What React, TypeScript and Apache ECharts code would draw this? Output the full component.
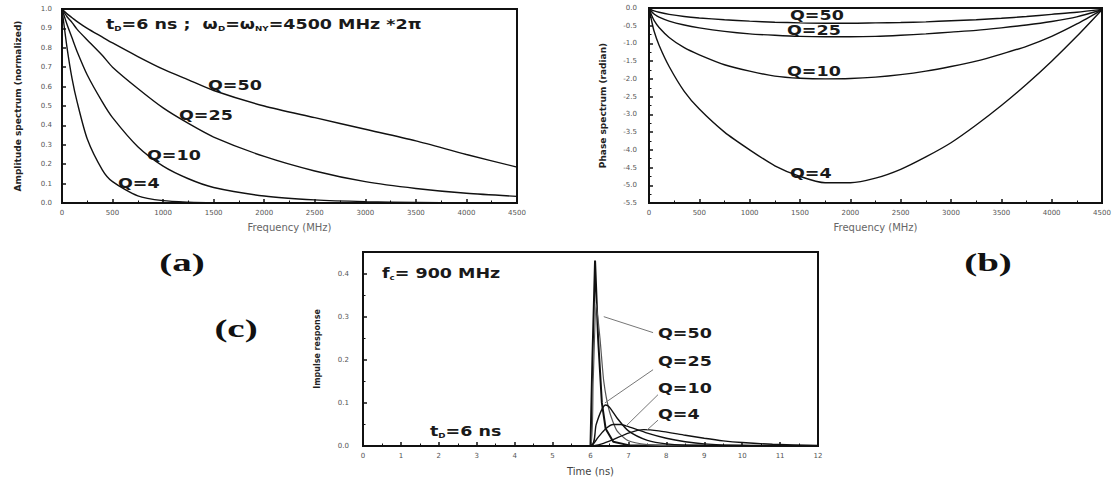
import React, { useEffect, useRef } from "react";
import * as echarts from "echarts";

// ---------- Panel (a): amplitude spectrum ----------
const ampFreq = [0, 50, 100, 150, 250, 400, 500, 750, 1000, 1250, 1500, 2000, 2500, 3000, 3500, 4000, 4500];
const ampQ50 = [1.0, 0.975, 0.955, 0.935, 0.9, 0.855, 0.825, 0.755, 0.69, 0.635, 0.58, 0.5, 0.44, 0.38, 0.32, 0.25, 0.185];
const ampQ25 = [1.0, 0.96, 0.93, 0.895, 0.84, 0.76, 0.7, 0.59, 0.49, 0.41, 0.34, 0.24, 0.165, 0.11, 0.075, 0.05, 0.034];
const ampQ10 = [1.0, 0.92, 0.85, 0.78, 0.66, 0.52, 0.44, 0.29, 0.19, 0.125, 0.08, 0.036, 0.016, 0.007, 0.003, 0.001, 0];
const ampQ4 = [1.0, 0.8, 0.64, 0.52, 0.33, 0.17, 0.11, 0.037, 0.012, 0.004, 0.001, 0, 0, 0, 0, 0, 0];

// ---------- Panel (b): phase spectrum ----------
const phFreq = [0, 25, 50, 100, 200, 350, 500, 750, 1000, 1250, 1500, 1750, 2000, 2250, 2500, 2750, 3000, 3250, 3500, 3750, 4000, 4250, 4500];
const phQ4 = [0, -0.35, -0.65, -1.05, -1.65, -2.35, -2.85, -3.5, -4.0, -4.45, -4.75, -4.93, -4.93, -4.8, -4.55, -4.2, -3.8, -3.3, -2.75, -2.15, -1.5, -0.8, -0.05];
const phQ10 = [0, -0.2, -0.35, -0.55, -0.83, -1.12, -1.32, -1.6, -1.78, -1.92, -1.98, -2.0, -1.99, -1.95, -1.88, -1.78, -1.65, -1.5, -1.3, -1.08, -0.8, -0.45, -0.05];
const phQ25 = [0, -0.1, -0.17, -0.26, -0.37, -0.48, -0.56, -0.66, -0.73, -0.77, -0.8, -0.81, -0.81, -0.8, -0.77, -0.73, -0.68, -0.63, -0.56, -0.48, -0.38, -0.25, -0.05];
const phQ50 = [0, -0.05, -0.08, -0.12, -0.18, -0.24, -0.28, -0.33, -0.37, -0.4, -0.42, -0.43, -0.43, -0.42, -0.41, -0.39, -0.36, -0.33, -0.29, -0.24, -0.18, -0.12, -0.04];

// ---------- Panel (c): impulse response ----------
const spikeT = [0, 6.0, 6.05, 6.12, 6.2, 6.3, 6.4, 6.6, 7.0, 12];
const spikeV = [0, 0, 0.2, 0.43, 0.25, 0.1, 0.04, 0.01, 0.002, 0];
const irQ50T = [0, 6.0, 6.07, 6.15, 6.25, 6.35, 6.5, 6.7, 7.0, 7.5, 8.0, 12];
const irQ50V = [0, 0, 0.15, 0.33, 0.25, 0.15, 0.08, 0.035, 0.012, 0.003, 0.001, 0];
const irQ25T = [0, 6.0, 6.15, 6.3, 6.4, 6.5, 6.7, 7.0, 7.5, 8.0, 9.0, 12];
const irQ25V = [0, 0, 0.05, 0.085, 0.095, 0.09, 0.065, 0.035, 0.013, 0.005, 0.001, 0];
const irQ10T = [0, 6.0, 6.2, 6.4, 6.6, 6.8, 7.0, 7.5, 8.0, 8.5, 9.0, 10.0, 12];
const irQ10V = [0, 0, 0.02, 0.04, 0.05, 0.05, 0.045, 0.03, 0.018, 0.01, 0.005, 0.001, 0];
const irQ4T = [0, 6.0, 6.3, 6.6, 7.0, 7.4, 7.8, 8.5, 9.0, 9.5, 10.0, 10.8, 12];
const irQ4V = [0, 0, 0.005, 0.015, 0.03, 0.038, 0.035, 0.025, 0.018, 0.012, 0.008, 0.004, 0.001];

// leader lines for panel (c) labels: [tStart, vStart, tEnd, vEnd]
const leaderQ50 = [7.65, 0.263, 6.35, 0.3];
const leaderQ25 = [7.65, 0.177, 6.38, 0.1];
const leaderQ10 = [7.78, 0.119, 6.91, 0.044];
const leaderQ4 = [7.78, 0.06, 7.49, 0.037];

const zip = (xs: number[], ys: number[]) => xs.map((x, i) => [x, ys[i]]);

const LINE = "#111";
const TICKCOL = "#555";
const SANS = "DejaVu Sans";

function axisCommon(extra: any) {
  return {
    axisLine: { show: true, onZero: false, lineStyle: { color: "#111", width: 2 } },
    axisTick: { show: true, inside: true, length: 4, lineStyle: { color: "#111", width: 1.5 } },
    minorTick: { show: false },
    splitLine: { show: false },
    axisLabel: { color: TICKCOL, fontSize: 7, fontFamily: SANS },
    nameTextStyle: { color: "#666", fontSize: 10, fontFamily: SANS },
    ...extra,
  };
}

export default function App() {
  const ref = useRef<HTMLDivElement>(null);
  useEffect(() => {
    document.body.style.margin = "0";
    const chart = echarts.init(ref.current!, undefined, { renderer: "svg" });

    const lineSeries = (name: string, xi: number, data: number[][], extra: any = {}) => ({
      name,
      type: "line",
      xAxisIndex: xi,
      yAxisIndex: xi,
      data,
      showSymbol: false,
      smooth: 0.25,
      lineStyle: { color: LINE, width: 1.4 },
      silent: true,
      ...extra,
    });
    const leader = (arr: number[]) => ({
      type: "line",
      xAxisIndex: 2,
      yAxisIndex: 2,
      data: [[arr[0], arr[1]], [arr[2], arr[3]]],
      showSymbol: false,
      lineStyle: { color: "#777", width: 1 },
      silent: true,
    });

    const SX = 1.25;
    const txt = (x: number, y: number, rich: any, text: string, fs = 14, sx = SX) => ({
      type: "text",
      x,
      y,
      scaleX: sx,
      style: {
        text,
        fontSize: fs,
        fontFamily: SANS,
        fontWeight: "bold",
        fill: "#1a1a1a",
        align: "left",
        verticalAlign: "middle",
        rich,
      },
    });
    const sub = {
      m: { fontSize: 14, fontFamily: SANS, fontWeight: "bold", color: "#1a1a1a" },
      s: { fontSize: 7, fontFamily: SANS, fontWeight: "bold", color: "#1a1a1a", padding: [10, 0, 0, 0] },
    };
    const plain = (v: number) => String(v);

    chart.setOption({
      animation: false,
      backgroundColor: "#fff",
      grid: [
        { left: 62, top: 9, width: 455, height: 194, show: true, borderColor: "#111", borderWidth: 2 },
        { left: 649, top: 8, width: 453, height: 195, show: true, borderColor: "#111", borderWidth: 2 },
        { left: 363, top: 252, width: 455, height: 194, show: true, borderColor: "#111", borderWidth: 2 },
      ],
      xAxis: [
        axisCommon({
          gridIndex: 0, type: "value", min: 0, max: 4500, interval: 500,
          name: "Frequency (MHz)", nameLocation: "middle", nameGap: 19,
          minorTick: { show: true, splitNumber: 2, length: 2.5, lineStyle: { color: "#111" } },
          axisLabel: { color: TICKCOL, fontSize: 7, fontFamily: SANS, margin: 6, formatter: plain },
        }),
        axisCommon({
          gridIndex: 1, type: "value", min: 0, max: 4500, interval: 500,
          name: "Frequency (MHz)", nameLocation: "middle", nameGap: 19,
          minorTick: { show: true, splitNumber: 2, length: 2.5, lineStyle: { color: "#111" } },
          axisLabel: { color: TICKCOL, fontSize: 7, fontFamily: SANS, margin: 6, formatter: plain },
        }),
        axisCommon({
          gridIndex: 2, type: "value", min: 0, max: 12, interval: 1,
          name: "Time (ns)", nameLocation: "middle", nameGap: 20,
          nameTextStyle: { color: "#444", fontSize: 10, fontFamily: SANS },
          minorTick: { show: true, splitNumber: 2, length: 2.5, lineStyle: { color: "#111" } },
          axisLabel: { color: TICKCOL, fontSize: 7, fontFamily: SANS, margin: 6, formatter: plain },
        }),
      ],
      yAxis: [
        axisCommon({
          gridIndex: 0, type: "value", min: 0, max: 1, interval: 0.1,
          name: "Amplitude spectrum (normalized)", nameLocation: "middle", nameGap: 40,
          nameTextStyle: { color: "#222", fontSize: 9, fontFamily: SANS, fontWeight: "bold" },
          axisLabel: { color: TICKCOL, fontSize: 7, fontFamily: SANS, margin: 10, formatter: (v: number) => v.toFixed(1) },
        }),
        axisCommon({
          gridIndex: 1, type: "value", min: -5.5, max: 0, interval: 0.5,
          name: "Phase spectrum (radian)", nameLocation: "middle", nameGap: 42,
          nameTextStyle: { color: "#222", fontSize: 9, fontFamily: SANS, fontWeight: "bold" },
          minorTick: { show: true, splitNumber: 2, length: 2.5, lineStyle: { color: "#111" } },
          axisLabel: { color: TICKCOL, fontSize: 7, fontFamily: SANS, margin: 12, formatter: (v: number) => v.toFixed(1) },
        }),
        axisCommon({
          gridIndex: 2, type: "value", min: 0, max: 0.45, interval: 0.1,
          name: "Impulse response", nameLocation: "middle", nameGap: 42,
          nameTextStyle: { color: "#222", fontSize: 8, fontFamily: SANS, fontWeight: "bold" },
          minorTick: { show: true, splitNumber: 2, length: 2.5, lineStyle: { color: "#111" } },
          axisLabel: { color: TICKCOL, fontSize: 7, fontFamily: SANS, margin: 14, showMaxLabel: false, formatter: (v: number) => v.toFixed(1) },
        }),
      ],
      series: [
        lineSeries("Q=50", 0, zip(ampFreq, ampQ50)),
        lineSeries("Q=25", 0, zip(ampFreq, ampQ25)),
        lineSeries("Q=10", 0, zip(ampFreq, ampQ10)),
        lineSeries("Q=4", 0, zip(ampFreq, ampQ4)),
        lineSeries("Q=50", 1, zip(phFreq, phQ50)),
        lineSeries("Q=25", 1, zip(phFreq, phQ25)),
        lineSeries("Q=10", 1, zip(phFreq, phQ10)),
        lineSeries("Q=4", 1, zip(phFreq, phQ4)),
        lineSeries("spike", 2, zip(spikeT, spikeV), { smooth: false, lineStyle: { color: LINE, width: 2 } }),
        lineSeries("Q=50", 2, zip(irQ50T, irQ50V), { smooth: 0.2, lineStyle: { color: "#555", width: 1.2 } }),
        lineSeries("Q=25", 2, zip(irQ25T, irQ25V)),
        lineSeries("Q=10", 2, zip(irQ10T, irQ10V)),
        lineSeries("Q=4", 2, zip(irQ4T, irQ4V)),
        leader(leaderQ50),
        leader(leaderQ25),
        leader(leaderQ10),
        leader(leaderQ4),
      ],
      graphic: [
        txt(106, 24, sub, "{m|t}{s|D}{m|=6 ns ;  ω}{s|D}{m|=ω}{s|NY}{m|=4500 MHz *2π}"),
        txt(208, 85, null, "Q=50"),
        txt(179, 115, null, "Q=25"),
        txt(147, 155, null, "Q=10"),
        txt(118, 183, null, "Q=4"),
        txt(790, 15, null, "Q=50"),
        txt(787, 30, null, "Q=25"),
        txt(787, 71, null, "Q=10"),
        txt(790, 173, null, "Q=4"),
        txt(382, 273, sub, "{m|f}{s|c}{m|= 900 MHz}"),
        txt(430, 431, sub, "{m|t}{s|D}{m|=6 ns}"),
        txt(658, 333, null, "Q=50"),
        txt(658, 361, null, "Q=25"),
        txt(658, 388, null, "Q=10"),
        txt(658, 414, null, "Q=4"),
        {
          type: "text", x: 182, y: 262, scaleX: 1.5,
          style: { text: "(a)", fontSize: 26, fontFamily: "Liberation Serif", fontWeight: "bold", fill: "#111", align: "center", verticalAlign: "middle" },
        },
        {
          type: "text", x: 988, y: 262, scaleX: 1.5,
          style: { text: "(b)", fontSize: 26, fontFamily: "Liberation Serif", fontWeight: "bold", fill: "#111", align: "center", verticalAlign: "middle" },
        },
        {
          type: "text", x: 236, y: 328, scaleX: 1.5,
          style: { text: "(c)", fontSize: 26, fontFamily: "Liberation Serif", fontWeight: "bold", fill: "#111", align: "center", verticalAlign: "middle" },
        },
      ],
    });
    return () => chart.dispose();
  }, []);
  return <div ref={ref} style={{ width: 1118, height: 481 }} />;
}
